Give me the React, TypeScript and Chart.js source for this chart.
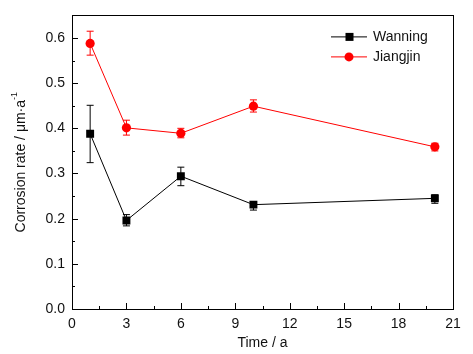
import React, { useEffect, useRef } from "react";
import { Chart, registerables } from "chart.js";

Chart.register(...registerables);

const timeYears = [1, 3, 6, 10, 20];
const wanningRate = [0.388, 0.196, 0.294, 0.231, 0.245];
const wanningErrLow = [0.324, 0.184, 0.273, 0.219, 0.234];
const wanningErrHigh = [0.451, 0.209, 0.314, 0.238, 0.253];
const jiangjinRate = [0.588, 0.401, 0.389, 0.449, 0.359];
const jiangjinErrLow = [0.562, 0.385, 0.379, 0.436, 0.350];
const jiangjinErrHigh = [0.615, 0.418, 0.400, 0.463, 0.367];
const xTicks = [0, 3, 6, 9, 12, 15, 18, 21];
const yTicks = [0, 0.1, 0.2, 0.3, 0.4, 0.5, 0.6];
const seriesNames = ["Wanning", "Jiangjin"];

const FONT = "'Liberation Sans', Arial, sans-serif";

export default function App() {
  const ref = useRef<HTMLCanvasElement | null>(null);

  useEffect(() => {
    document.body.style.margin = "0";
    const canvas = ref.current;
    if (!canvas) return;

    const errors = [
      { low: wanningErrLow, high: wanningErrHigh },
      { low: jiangjinErrLow, high: jiangjinErrHigh },
    ];

    const customPlugin = {
      id: "custom",
      beforeDatasetsDraw(chart: any) {
        const ctx = chart.ctx;
        const xs = chart.scales.x;
        const ys = chart.scales.y;
        chart.data.datasets.forEach((ds: any, i: number) => {
          ctx.save();
          ctx.strokeStyle = ds.borderColor;
          ctx.lineWidth = 1;
          timeYears.forEach((t, j) => {
            const px = xs.getPixelForValue(t);
            const lo = ys.getPixelForValue(errors[i].low[j]);
            const hi = ys.getPixelForValue(errors[i].high[j]);
            ctx.beginPath();
            ctx.moveTo(px, lo);
            ctx.lineTo(px, hi);
            ctx.moveTo(px - 3.5, lo);
            ctx.lineTo(px + 3.5, lo);
            ctx.moveTo(px - 3.5, hi);
            ctx.lineTo(px + 3.5, hi);
            ctx.stroke();
          });
          ctx.restore();
        });
      },
      afterDraw(chart: any) {
        const ctx = chart.ctx;
        const a = chart.chartArea;
        const xs = chart.scales.x;
        const ys = chart.scales.y;
        ctx.save();
        ctx.strokeStyle = "#000";
        ctx.lineWidth = 1;
        ctx.strokeRect(Math.round(a.left) + 0.5, Math.round(a.top) + 0.5, Math.round(a.right - a.left), Math.round(a.bottom - a.top));
        // inward ticks
        ctx.beginPath();
        for (let v = 0; v <= 21.001; v += 1.5) {
          const px = Math.round(xs.getPixelForValue(v)) + 0.5;
          const major = Math.abs(v / 3 - Math.round(v / 3)) < 1e-6;
          const len = major ? 6 : 3;
          ctx.moveTo(px, a.bottom);
          ctx.lineTo(px, a.bottom - len);
        }
        for (let k = 0; k <= 13; k++) {
          const v = k * 0.05;
          const py = Math.round(ys.getPixelForValue(v)) + 0.5;
          const len = k % 2 === 0 ? 6 : 3;
          ctx.moveTo(a.left, py);
          ctx.lineTo(a.left + len, py);
        }
        ctx.stroke();

        // y title with superscript
        ctx.fillStyle = "#111";
        ctx.save();
        ctx.translate(21, (a.top + a.bottom) / 2);
        ctx.rotate(-Math.PI / 2);
        const main = "Corrosion rate / \u03bcm\u00b7a";
        const sup = "-1";
        ctx.font = "14px " + FONT;
        const wMain = ctx.measureText(main).width;
        ctx.font = "9px " + FONT;
        const wSup = ctx.measureText(sup).width;
        const total = wMain + wSup;
        ctx.textBaseline = "middle";
        ctx.textAlign = "left";
        ctx.font = "14px " + FONT;
        ctx.fillText(main, -total / 2, 0);
        ctx.font = "9px " + FONT;
        ctx.fillText(sup, -total / 2 + wMain, -6);
        ctx.restore();

        // legend
        const lx = a.right - 122;
        const ly = [a.top + 21, a.top + 41];
        chart.data.datasets.forEach((ds: any, i: number) => {
          const y = ly[i];
          ctx.strokeStyle = ds.borderColor;
          ctx.lineWidth = 1;
          ctx.beginPath();
          ctx.moveTo(lx, y + 0.5);
          ctx.lineTo(lx + 36, y + 0.5);
          ctx.stroke();
          ctx.fillStyle = ds.backgroundColor;
          if (ds.pointStyle === "rect") {
            ctx.fillRect(lx + 18 - 3.5, y - 3.5, 8, 8);
          } else {
            ctx.beginPath();
            ctx.arc(lx + 18, y + 0.5, 4.5, 0, Math.PI * 2);
            ctx.fill();
          }
          ctx.fillStyle = "#111";
          ctx.font = "14px " + FONT;
          ctx.textAlign = "left";
          ctx.textBaseline = "middle";
          ctx.fillText(seriesNames[i], lx + 42, y + 1);
        });
        ctx.restore();
      },
    };

    const chart = new Chart(canvas, {
      type: "line",
      data: {
        datasets: [
          {
            label: seriesNames[0],
            data: timeYears.map((t, i) => ({ x: t, y: wanningRate[i] })),
            borderColor: "#000000",
            backgroundColor: "#000000",
            borderWidth: 1,
            pointStyle: "rect",
            pointRadius: 5.6,
            pointBorderWidth: 0,
          },
          {
            label: seriesNames[1],
            data: timeYears.map((t, i) => ({ x: t, y: jiangjinRate[i] })),
            borderColor: "#ff0000",
            backgroundColor: "#ff0000",
            borderWidth: 1,
            pointStyle: "circle",
            pointRadius: 4.6,
            pointBorderWidth: 0,
          },
        ],
      },
      options: {
        responsive: false,
        animation: false,
        layout: { padding: { top: 14, right: 20, left: 0, bottom: 0 } },
        plugins: { legend: { display: false }, tooltip: { enabled: false } },
        scales: {
          x: {
            type: "linear",
            min: 0,
            max: 21,
            grid: { display: false, drawTicks: false },
            border: { display: false },
            afterBuildTicks: (s: any) => {
              s.ticks = xTicks.map((v) => ({ value: v }));
            },
            afterFit: (s: any) => {
              s.height = 45;
            },
            ticks: {
              color: "#111",
              padding: 7,
              font: { family: FONT, size: 14 },
              maxRotation: 0,
              callback: (v: any) => String(v),
            },
            title: {
              display: true,
              text: "Time / a",
              color: "#111",
              font: { family: FONT, size: 14 },
              padding: { top: 0, bottom: 2 },
            },
          },
          y: {
            type: "linear",
            min: 0,
            max: 0.65,
            grid: { display: false, drawTicks: false },
            border: { display: false },
            afterBuildTicks: (s: any) => {
              s.ticks = yTicks.map((v) => ({ value: v }));
            },
            afterFit: (s: any) => {
              s.width = 72;
            },
            ticks: {
              color: "#111",
              padding: 7,
              font: { family: FONT, size: 14 },
              callback: (v: any) => Number(v).toFixed(1),
            },
          },
        },
      },
      plugins: [customPlugin],
    });

    return () => chart.destroy();
  }, []);

  return (
    <div style={{ position: "absolute", left: 0, top: 0, width: 473, height: 354 }}>
      <canvas ref={ref} width={473} height={354} style={{ width: 473, height: 354 }} />
    </div>
  );
}
